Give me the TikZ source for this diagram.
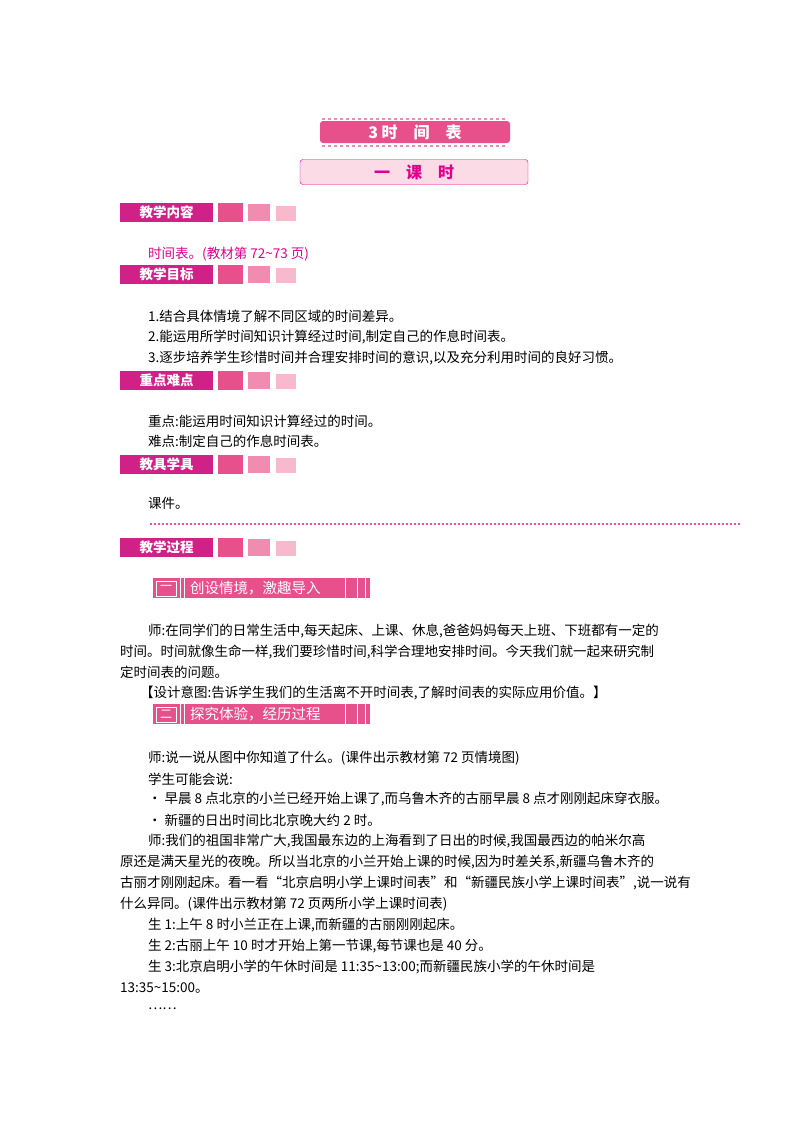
\documentclass[tikz,border=0pt]{standalone}
\usepackage{fontspec}
\setmainfont{Noto Sans CJK SC}
\newcommand{\tl}{\textasciitilde}
\begin{document}
\begin{tikzpicture}[x=1pt,y=-1pt,
 t/.style={anchor=west,inner sep=0pt,font=\fontsize{13.5}{14}\selectfont},
 hd/.style={fill=magenta!85!black,text=white,inner sep=0pt,minimum width=93pt,minimum height=19pt,font=\fontsize{13.5}{13.5}\selectfont\bfseries,anchor=north west},
 sq/.style={inner sep=0pt,anchor=north west}]
\definecolor{pk1}{RGB}{232,80,140}\definecolor{pk2}{RGB}{240,140,175}\definecolor{pk3}{RGB}{248,185,205}
\definecolor{mag}{RGB}{225,0,140}
\useasboundingbox[fill=white] (0,0) rectangle (800,1132);
% title
\node[fill=pk1,rounded corners=3pt,minimum width=190pt,minimum height=22pt,text=white,font=\fontsize{16}{16}\selectfont\bfseries\itshape] (title) at (415,132) {3 时\quad 间\quad 表};
\draw[pk2,dashed,line width=1.5pt] (322,119)--(508,119) (322,146)--(508,146);
\node[draw=mag,fill=pk3!50,rounded corners=3pt,minimum width=228pt,minimum height=25pt,text=mag,font=\fontsize{16}{16}\selectfont\bfseries] (ks) at (414,172) {一\quad 课\quad 时};
\newcommand{\hdr}[3]{\node[hd] (#1) at (120,#2) {#3};
 \node[sq,fill=pk1,minimum width=25pt,minimum height=19pt] at (218,#2) {};
 \node[sq,fill=pk2,minimum width=22pt,minimum height=17pt] at (248,#2+1) {};
 \node[sq,fill=pk3,minimum width=20pt,minimum height=15pt] at (276,#2+3) {};}
\hdr{h1}{203}{教学内容}
\node[t,text=mag] (a1) at (148,254) {时间表。(教材第 72\tl73 页)};
\hdr{h2}{265}{教学目标}
\node[t] at (148,316) {1.结合具体情境了解不同区域的时间差异。};
\node[t] at (148,337) {2.能运用所学时间知识计算经过时间,制定自己的作息时间表。};
\node[t] at (148,358) {3.逐步培养学生珍惜时间并合理安排时间的意识,以及充分利用时间的良好习惯。};
\hdr{h3}{371}{重点难点}
\node[t] at (148,421) {重点:能运用时间知识计算经过的时间。};
\node[t] at (148,441) {难点:制定自己的作息时间表。};
\hdr{h4}{455}{教具学具}
\node[t] at (148,503) {课件。};
\draw[mag!70,line width=2pt,dotted] (150,524)--(740,524);
\hdr{h5}{538}{教学过程}
\newcommand{\secbar}[3]{\node[sq,fill=pk1,minimum width=217pt,minimum height=20pt] (#1) at (153,#2) {};
 \node[sq,draw=white,fill=pk1,minimum width=20pt,minimum height=15pt,text=white,font=\fontsize{12}{12}\selectfont] at (156,#2+2.5) {#3};
 \draw[white,line width=1pt] (180,#2)--(180,#2+20) (184,#2)--(184,#2+20) (345,#2)--(345,#2+20) (357,#2)--(357,#2+20) (365,#2)--(365,#2+20);}
\secbar{s1}{578}{一}
\node[anchor=west,inner sep=0pt,text=white,font=\fontsize{14.5}{14}\selectfont] at (190,588) {创设情境，激趣导入};
\node[t] at (148,631) {师:在同学们的日常生活中,每天起床、上课、休息,爸爸妈妈每天上班、下班都有一定的};
\node[t] at (120,652) {时间。时间就像生命一样,我们要珍惜时间,科学合理地安排时间。今天我们就一起来研究制};
\node[t] at (120,672) {定时间表的问题。};
\node[t] at (140,693) {【设计意图:告诉学生我们的生活离不开时间表,了解时间表的实际应用价值。】};
\secbar{s2}{704}{二}
\node[anchor=west,inner sep=0pt,text=white,font=\fontsize{14.5}{14}\selectfont] at (190,714) {探究体验，经历过程};
\node[t] at (148,758) {师:说一说从图中你知道了什么。(课件出示教材第 72 页情境图)};
\node[t] at (148,779) {学生可能会说:};
\node[t] at (148,799) {• 早晨 8 点北京的小兰已经开始上课了,而乌鲁木齐的古丽早晨 8 点才刚刚起床穿衣服。};
\node[t] at (148,820) {• 新疆的日出时间比北京晚大约 2 时。};
\node[t] at (148,841) {师:我们的祖国非常广大,我国最东边的上海看到了日出的时候,我国最西边的帕米尔高};
\node[t] at (120,862) {原还是满天星光的夜晚。所以当北京的小兰开始上课的时候,因为时差关系,新疆乌鲁木齐的};
\node[t] at (120,883) {古丽才刚刚起床。看一看“北京启明小学上课时间表”和“新疆民族小学上课时间表”,说一说有};
\node[t] at (120,904) {什么异同。(课件出示教材第 72 页两所小学上课时间表)};
\node[t] at (148,925) {生 1:上午 8 时小兰正在上课,而新疆的古丽刚刚起床。};
\node[t] at (148,946) {生 2:古丽上午 10 时才开始上第一节课,每节课也是 40 分。};
\node[t] at (148,967) {生 3:北京启明小学的午休时间是 11:35\tl13:00;而新疆民族小学的午休时间是};
\node[t] at (120,988) {13:35\tl15:00。};
\node[t] at (148,1009) {……};
\end{tikzpicture}
\end{document}
